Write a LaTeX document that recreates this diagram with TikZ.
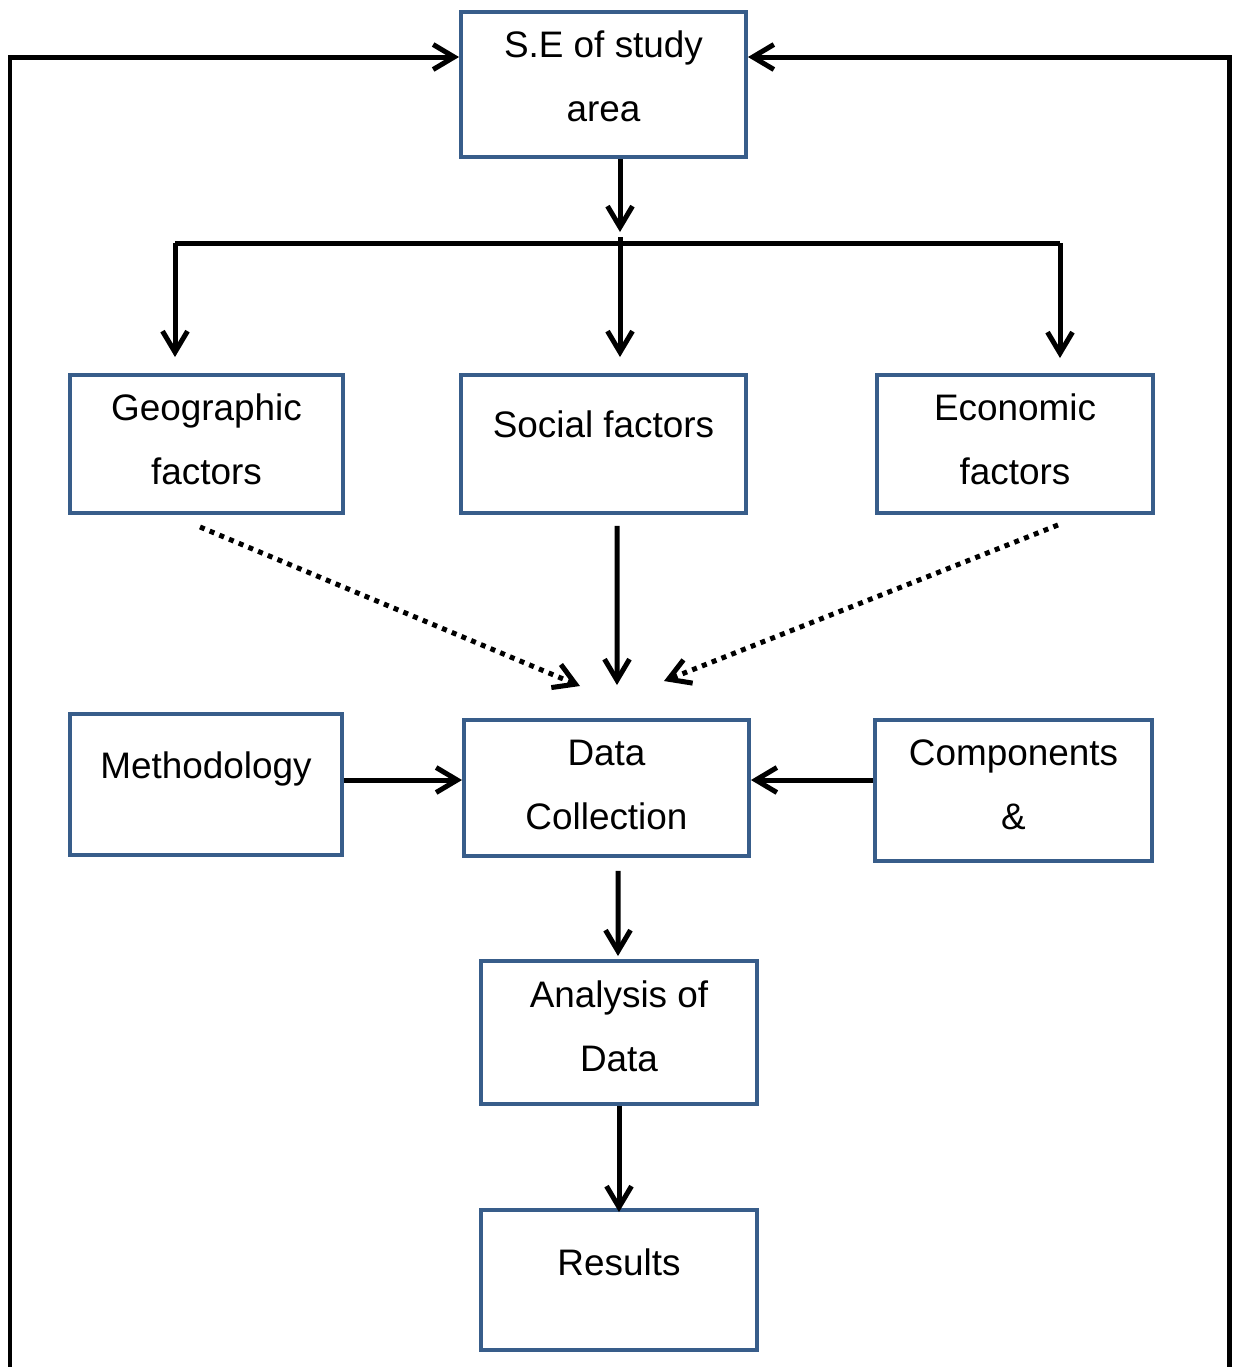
\documentclass[tikz,border=0pt]{standalone}
\usepackage{fontspec}
\setmainfont{Liberation Sans}
\usetikzlibrary{arrows.meta}
\definecolor{boxblue}{RGB}{56,93,138}
\begin{document}
\begin{tikzpicture}[x=0.02cm,y=-0.02cm,font=\fontsize{21}{36.4}\selectfont,
  blk/.style={draw=boxblue,line width=0.08cm,inner sep=0pt},
  txt/.style={align=center,inner sep=0pt},
  arr/.style={line width=0.1cm,-{Straight Barb[length=0.42cm,width=0.5cm]}},
  dots/.style={arr,dash pattern=on 0.1cm off 0.11cm}]
 \useasboundingbox (0,0) rectangle (1232,1367);
 \node[blk,minimum width=5.7cm,minimum height=2.9cm] (se) at (603.5,84.5) {};
 \node[txt] (se-t) at (603.5,76) {S.E of study\\area};
 \node[blk,minimum width=5.46cm,minimum height=2.76cm] (geo) at (206.5,444) {};
 \node[txt] (geo-t) at (206.5,439) {Geographic\\factors};
 \node[blk,minimum width=5.7cm,minimum height=2.76cm] (soc) at (603.5,444) {};
 \node[txt] (soc-t) at (603.5,424.5) {Social factors};
 \node[blk,minimum width=5.52cm,minimum height=2.76cm] (eco) at (1015,444) {};
 \node[txt] (eco-t) at (1015,439) {Economic\\factors};
 \node[blk,minimum width=5.44cm,minimum height=2.82cm] (meth) at (206,784.5) {};
 \node[txt] (meth-t) at (206,768.5) {Methodology};
 \node[blk,minimum width=5.7cm,minimum height=2.72cm] (data) at (606.5,788) {};
 \node[txt] (data-t) at (606.5,785) {Data\\Collection};
 \node[blk,minimum width=5.54cm,minimum height=2.82cm] (comp) at (1013.5,790.5) {};
 \node[txt] (comp-t) at (1013.5,785) {Components\\\&};
 \node[blk,minimum width=5.52cm,minimum height=2.86cm] (ana) at (619,1032.5) {};
 \node[txt] (ana-t) at (619,1026) {Analysis of\\Data};
 \node[blk,minimum width=5.52cm,minimum height=2.8cm] (res) at (619,1280) {};
 \node[txt] (res-t) at (619,1262.5) {Results};
 \coordinate (lt) at (10,57);
 \coordinate (lb) at (10,1380);
 \coordinate (rt) at (1229,57);
 \coordinate (rb) at (1229,1380);
 \coordinate (hub) at (620,243);
 \coordinate (bl) at (175,243);
 \coordinate (br) at (1060,243);
 \draw[arr] (lb) -- (lt) -- (lt -| se.west);
 \draw[arr] (rb) -- (rt) -- (rt -| se.east);
 \draw[arr] (se.south -| hub) -- ([yshift=0.22cm]hub);
 \draw[line width=0.1cm] (bl) -- (br);
 \draw[arr] (bl) -- ([yshift=0.32cm]bl |- geo.north);
 \draw[arr] ([yshift=0.12cm]hub) -- ([yshift=0.32cm]hub |- soc.north);
 \draw[arr] (br) -- ([yshift=0.3cm]br |- eco.north);
 \draw[arr] ([xshift=0.27cm,yshift=-0.22cm]soc.south) -- ([xshift=0.21cm,yshift=0.66cm]data.north);
 \draw[dots] ([xshift=-0.13cm,yshift=-0.24cm]geo.south) -- ([xshift=-0.53cm,yshift=0.64cm]data.north);
 \draw[dots] ([xshift=0.86cm,yshift=-0.2cm]eco.south) -- ([xshift=1.15cm,yshift=0.74cm]data.north);
 \draw[arr] ([yshift=0.16cm]data.west -| meth.east) -- ([yshift=0.16cm]data.west);
 \draw[arr] ([yshift=0.16cm]data.east -| comp.west) -- ([yshift=0.16cm]data.east);
 \draw[arr] ([xshift=0.23cm,yshift=-0.26cm]data.south) -- ([xshift=-0.02cm,yshift=0.06cm]ana.north);
 \draw[arr] (ana.south) -- ([yshift=-0.08cm]res.north);
\end{tikzpicture}
\end{document}
